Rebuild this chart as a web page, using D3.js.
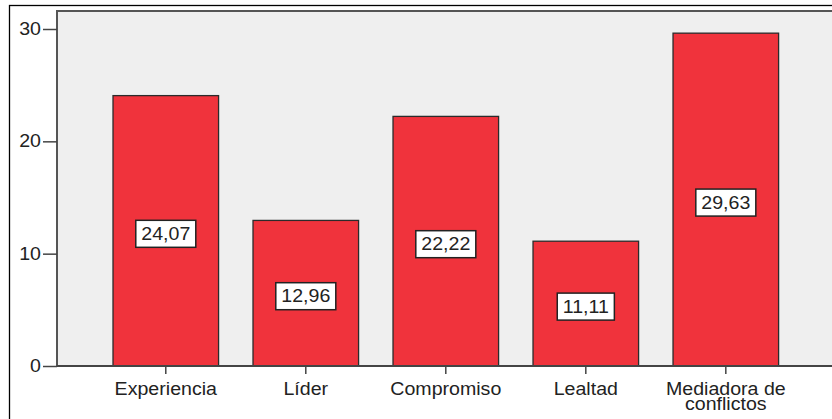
<!DOCTYPE html>
<html>
<head>
<meta charset="utf-8">
<script src="https://cdn.jsdelivr.net/npm/d3@7"></script>
<style>
  html, body { margin: 0; padding: 0; background: #ffffff; }
  svg { display: block; }
  text { font-family: "Liberation Sans", Arial, sans-serif; fill: #222; }
</style>
</head>
<body>
<svg id="chart" width="832" height="419"></svg>
<script>
// Category names (each entry is a list of label lines)
const categories = [
  ["Experiencia"],
  ["Líder"],
  ["Compromiso"],
  ["Lealtad"],
  ["Mediadora de", "conflictos"]
];
// Percentages per category
const values = [24.07, 12.96, 22.22, 11.11, 29.63];
// Value-axis ticks
const yTicks = [0, 10, 20, 30];

const W = 832, H = 419;
const plot = { left: 57, top: 11, bottom: 366, right: 834.6 };
const FONT = 17.5, STRETCH = 1.12;

const svg = d3.select("#chart");

// Outer frame
svg.append("rect")
  .attr("x", 9.5).attr("y", 5.5)
  .attr("width", W + 20).attr("height", H + 20)
  .attr("fill", "#fff").attr("stroke", "#000").attr("stroke-width", 1.3);

const keys = categories.map(c => c.join(" "));
const x = d3.scaleBand()
  .domain(keys)
  .range([plot.left, plot.right])
  .paddingInner(0.246)
  .paddingOuter(0.4);

const y = d3.scaleLinear()
  .domain([0, 30])
  .range([plot.bottom, 29]);

// Plot background
svg.append("rect")
  .attr("x", plot.left).attr("y", plot.top)
  .attr("width", W + 20).attr("height", plot.bottom - plot.top)
  .attr("fill", "#efefef");

// Bars
svg.append("g").selectAll("rect")
  .data(values)
  .join("rect")
  .attr("x", (d, i) => x(keys[i]))
  .attr("y", d => y(d))
  .attr("width", x.bandwidth())
  .attr("height", d => y(0) - y(d))
  .attr("fill", "#f0333c")
  .attr("stroke", "#2b2b2b")
  .attr("stroke-width", 1.3);

// Plot border (left, top)
svg.append("path")
  .attr("d", `M${plot.left},${plot.bottom}V${plot.top}H${W + 10}`)
  .attr("fill", "none").attr("stroke", "#555").attr("stroke-width", 2);

// Y axis ticks and labels
const yAxis = d3.axisLeft(y).tickValues(yTicks).tickSize(14).tickPadding(2).tickFormat(d3.format("d"));
const gy = svg.append("g").attr("transform", `translate(${plot.left},0)`).call(yAxis);
gy.select(".domain").remove();
gy.selectAll(".tick line").attr("stroke", "#444").attr("stroke-width", 1.5);
gy.selectAll(".tick text")
  .attr("font-size", FONT)
  .attr("fill", "#222")
  .attr("font-family", "Liberation Sans, Arial, sans-serif")
  .each(function () {
    const t = d3.select(this);
    const xx = +t.attr("x");
    t.attr("x", null)
     .attr("transform", `translate(${xx},0) scale(${STRETCH},1)`);
  });

// Baseline
svg.append("line")
  .attr("x1", plot.left).attr("x2", W + 10)
  .attr("y1", plot.bottom).attr("y2", plot.bottom)
  .attr("stroke", "#444").attr("stroke-width", 2);

// X ticks
svg.append("g").selectAll("line")
  .data(keys)
  .join("line")
  .attr("x1", d => x(d) + x.bandwidth() / 2)
  .attr("x2", d => x(d) + x.bandwidth() / 2)
  .attr("y1", plot.bottom).attr("y2", plot.bottom + 8)
  .attr("stroke", "#444").attr("stroke-width", 1.5);

// Category labels (multi-line labels as tspans in one text)
const xl = svg.append("g").selectAll("text")
  .data(categories)
  .join("text")
  .attr("text-anchor", "middle")
  .attr("font-size", FONT)
  .attr("transform", (d, i) => `translate(${x(keys[i]) + x.bandwidth() / 2},395) scale(${STRETCH},1)`);
xl.selectAll("tspan")
  .data(d => d)
  .join("tspan")
  .attr("x", 0)
  .attr("y", (d, j) => j * 14.5)
  .text(d => d);

// Value labels in boxes
const fmt = v => d3.format(".2f")(v).replace(".", ",");
const vl = svg.append("g").selectAll("g")
  .data(values)
  .join("g")
  .attr("transform", (d, i) => `translate(${x(keys[i]) + x.bandwidth() / 2},${(y(d) + y(0)) / 2 + 3})`);
vl.each(function (d) {
  const g = d3.select(this);
  const box = g.append("rect");
  const t = g.append("text")
    .attr("text-anchor", "middle")
    .attr("dy", "0.35em")
    .attr("font-size", FONT)
    .attr("fill", "#111")
    .attr("transform", `scale(${STRETCH},1)`)
    .text(fmt(d));
  const bb = t.node().getBBox();
  const w = bb.width * STRETCH + 11;
  const h = 27;
  box.attr("x", -w / 2).attr("y", -h / 2)
    .attr("width", w).attr("height", h)
    .attr("fill", "#fff").attr("stroke", "#222").attr("stroke-width", 1.5);
});
</script>
</body>
</html>
